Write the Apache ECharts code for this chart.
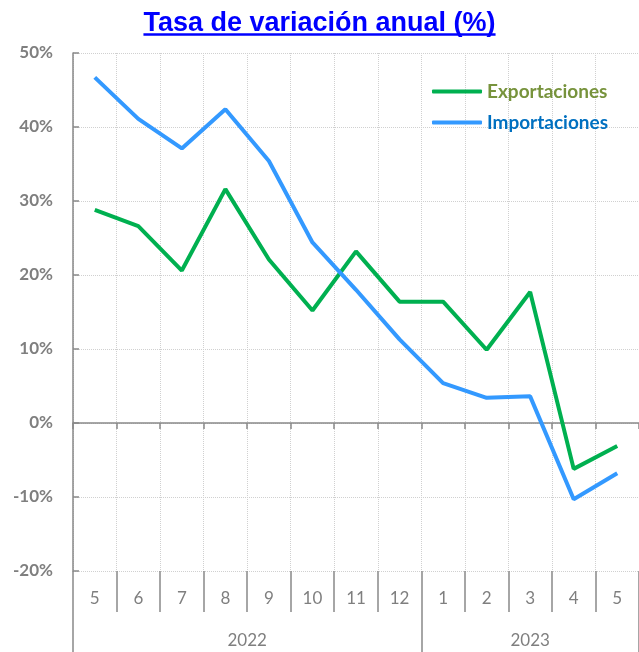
<!DOCTYPE html>
<html>
<head>
<meta charset="utf-8">
<title>Tasa de variación anual (%)</title>
<script src="https://cdn.jsdelivr.net/npm/echarts@6/dist/echarts.min.js"></script>
<style>
  html, body { margin: 0; padding: 0; background: #fff; }
  #chart { width: 639px; height: 652px; }
</style>
</head>
<body>
<div id="chart"></div>
<script>
// datos
const months = ['5', '6', '7', '8', '9', '10', '11', '12', '1', '2', '3', '4', '5'];
const years = ['2022', '2023'];
const monthsPerYear = [8, 5];
const exportaciones = [28.8, 26.6, 20.6, 31.6, 22.1, 15.2, 23.2, 16.4, 16.4, 9.9, 17.7, -6.2, -3.1];
const importaciones = [46.7, 41.1, 37.1, 42.4, 35.4, 24.4, 18.0, 11.3, 5.4, 3.4, 3.6, -10.3, -6.8];

const titleText = 'Tasa de variación anual (%)';
const titleFont = 'bold 27px "Liberation Sans"';
const axisGray = '#898989';
const labelGray = '#7f7f7f';
const gridGray = '#d0d0d0';

// limites y centros de cada año en unidades de categoría
const yearBounds = [0];
const yearCenters = [];
monthsPerYear.forEach((n) => {
  const start = yearBounds[yearBounds.length - 1];
  yearCenters.push(start + n / 2);
  yearBounds.push(start + n);
});

// ancho del título para el subrayado
const ctx = document.createElement('canvas').getContext('2d');
ctx.font = titleFont;
const titleW = ctx.measureText(titleText).width;
const titleCx = 319.5;

const chart = echarts.init(document.getElementById('chart'));

chart.setOption({
  animation: false,
  backgroundColor: '#fff',
  title: {
    text: titleText,
    left: 'center',
    top: 5,
    textStyle: {
      fontFamily: 'Liberation Sans',
      fontWeight: 'bold',
      fontSize: 27,
      color: '#0000ff',
    },
  },
  graphic: [
    {
      type: 'line',
      shape: { x1: titleCx - titleW / 2, y1: 34.5, x2: titleCx + titleW / 2, y2: 34.5 },
      style: { stroke: '#0000ff', lineWidth: 2.5 },
    },
  ],
  legend: {
    orient: 'vertical',
    left: 427,
    top: 77,
    itemWidth: 50,
    itemHeight: 4,
    itemGap: 12,
    icon: 'roundRect',
    textStyle: {
      fontFamily: 'Lato',
      fontWeight: 'bold',
      fontSize: 19,
    },
    data: [
      { name: 'Exportaciones', textStyle: { color: '#77933c' } },
      { name: 'Importaciones', textStyle: { color: '#0070c0' } },
    ],
  },
  grid: {
    left: 73,
    right: -2,
    top: 53,
    bottom: 81,
  },
  xAxis: [
    {
      // eje en el 0%
      type: 'category',
      data: months,
      boundaryGap: true,
      axisLine: { onZero: true, lineStyle: { color: axisGray, width: 1.5 } },
      axisTick: { show: true, interval: 0, length: 6, lineStyle: { color: axisGray, width: 1.5 } },
      axisLabel: { show: false },
      splitLine: {
        show: true,
        interval: 0,
        lineStyle: { color: gridGray, type: 'dotted', width: 1 },
      },
    },
    {
      // fila de meses
      type: 'category',
      data: months,
      position: 'bottom',
      boundaryGap: true,
      axisLine: { show: false, onZero: false },
      axisTick: { show: true, interval: 0, length: 41, lineStyle: { color: axisGray, width: 1.5 } },
      axisLabel: {
        interval: 0,
        margin: 19,
        fontFamily: 'Lato',
        fontSize: 17,
        color: labelGray,
      },
      splitLine: { show: false },
    },
    {
      // fila de años
      type: 'value',
      min: 0,
      max: months.length,
      position: 'bottom',
      offset: 41,
      axisLine: { show: false, onZero: false },
      axisTick: {
        show: true,
        customValues: yearBounds,
        length: 40,
        lineStyle: { color: axisGray, width: 1.5 },
      },
      axisLabel: {
        customValues: yearCenters,
        formatter: (v) => years[yearCenters.indexOf(v)],
        margin: 20,
        fontFamily: 'Lato',
        fontSize: 17,
        color: labelGray,
      },
      splitLine: { show: false },
    },
  ],
  yAxis: {
    type: 'value',
    min: -20,
    max: 50,
    interval: 10,
    axisLine: { show: true, lineStyle: { color: axisGray, width: 1.5 } },
    axisTick: { show: true, inside: true, length: 6, lineStyle: { color: axisGray, width: 1.5 } },
    axisLabel: {
      formatter: '{value}%',
      margin: 20,
      fontFamily: 'Lato',
      fontWeight: 'bold',
      fontSize: 17,
      color: labelGray,
    },
    splitLine: {
      show: true,
      lineStyle: { color: gridGray, type: 'dotted', width: 1 },
    },
  },
  series: [
    {
      name: 'Exportaciones',
      type: 'line',
      xAxisIndex: 0,
      data: exportaciones,
      symbol: 'none',
      color: '#00b050',
      lineStyle: { color: '#00b050', width: 4 },
      z: 3,
    },
    {
      name: 'Importaciones',
      type: 'line',
      xAxisIndex: 0,
      data: importaciones,
      symbol: 'none',
      color: '#3399ff',
      lineStyle: { color: '#3399ff', width: 4 },
      z: 4,
    },
  ],
});
</script>
</body>
</html>
